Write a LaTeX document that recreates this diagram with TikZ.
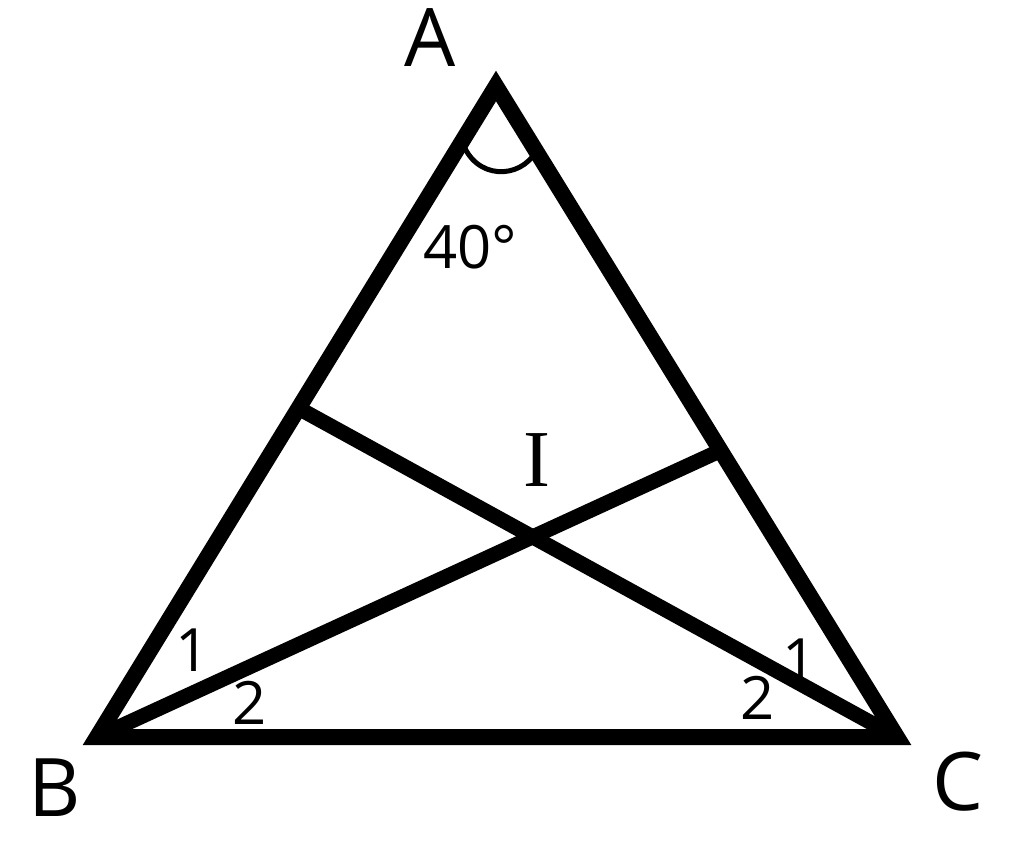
\documentclass[tikz,border=0pt]{standalone}
\usepackage{fontspec}
\setmainfont{Open Sans}
\newfontfamily\barfont{Liberation Serif}
\usetikzlibrary{calc}

\begin{document}
\begin{tikzpicture}
        [
            x=0.02cm, y=-0.02cm,
            side/.style={line width=0.32cm, line join=miter},
            cevian/.style={line width=0.3cm},
            anglemark/.style={line width=0.1cm, line cap=round},
            vlabel/.style={inner sep=0pt, font=\fontsize{46}{46}\selectfont},
            nlabel/.style={inner sep=0pt, font=\fontsize{34}{34}\selectfont},
        ]
        \useasboundingbox (0,0) rectangle (1024,849);
        % vertices and feet of the bisectors
        \coordinate (A) at (496,86);
        \coordinate (B) at (97,737);
        \coordinate (C) at (897,737);
        \coordinate (D) at ($(A)!0.56!(C)$);
        \coordinate (E) at ($(A)!0.495!(B)$);
        \coordinate (I) at (intersection of B--D and C--E);
        \draw[side] (A) -- (B) -- (C) -- cycle;
        \draw[cevian] (B) -- (D);
        \draw[cevian] (C) -- (E);
        % angle at A
        \coordinate (a1) at ($(A)!0.085!(B)$);
        \coordinate (a2) at ($(A)!0.1!(C)$);
        \draw[anglemark] (a1) .. controls (475,180) and (520,180) .. (a2);
        \node[nlabel] (deg) at (470,247) {40°};
        % labels
        \node[vlabel] (labA) at (430,38) {A};
        \node[vlabel] (labB) at (55,788) {B};
        \node[vlabel] (labC) at (958,782) {C};
        \node[vlabel, font=\fontsize{46}{46}\barfont] (labI) at (537,460) {I};
        \node[nlabel] (b1) at (193,650) {1};
        \node[nlabel] (b2) at (250,703) {2};
        \node[nlabel] (c1) at (800,660) {1};
        \node[nlabel] (c2) at (758,698) {2};
    \end{tikzpicture}
\end{document}
